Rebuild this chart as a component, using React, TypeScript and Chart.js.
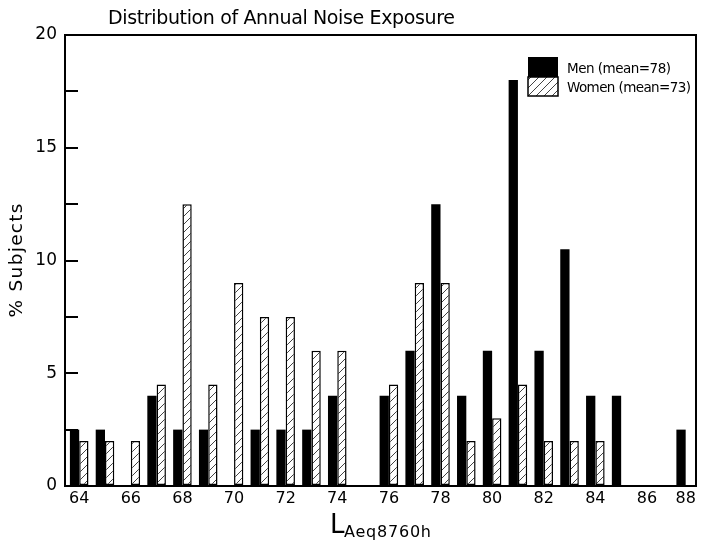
import React, { useEffect, useRef } from 'react';
import { Chart, registerables } from 'chart.js';

Chart.register(...registerables);

// ---- data ----
const binValues = [64, 65, 66, 67, 68, 69, 70, 71, 72, 73, 74, 75, 76, 77, 78, 79, 80, 81, 82, 83, 84, 85, 87.5];
const menPct = [2.5, 2.5, null, 4, 2.5, 2.5, null, 2.5, 2.5, 2.5, 4, null, 4, 6, 12.5, 4, 6, 18, 6, 10.5, 4, 4, 2.5];
const womenPct = [2, 2, 2, 4.5, 12.5, 4.5, 9, 7.5, 7.5, 6, 6, null, 4.5, 9, 9, 2, 3, 4.5, 2, 2, 2, null, null];
const xTickValues = [64, 66, 68, 70, 72, 74, 76, 78, 80, 82, 84, 86, 87.5];
const xTickLabels = ['64', '66', '68', '70', '72', '74', '76', '78', '80', '82', '84', '86', '88'];
const yLabelledTicks = [0, 5, 10, 15, 20];
const seriesNames = ['Men (mean=78)', 'Women (mean=73)'];
const titleText = 'Distribution of Annual Noise Exposure';
const yTitleText = '% Subjects';
const xTitleMain = 'L';
const xTitleSub = 'Aeq8760h';

const FONT = '"DejaVu Sans", "Liberation Sans", sans-serif';

function makeHatch(): CanvasPattern | string {
  const s = 8;
  const c = document.createElement('canvas');
  c.width = s;
  c.height = s;
  const g = c.getContext('2d');
  if (!g) return '#fff';
  g.fillStyle = '#ffffff';
  g.fillRect(0, 0, s, s);
  g.strokeStyle = '#444';
  g.lineWidth = 1;
  g.beginPath();
  g.moveTo(0, s);
  g.lineTo(s, 0);
  g.moveTo(-1, 1);
  g.lineTo(1, -1);
  g.moveTo(s - 1, s + 1);
  g.lineTo(s + 1, s - 1);
  g.stroke();
  const p = g.createPattern(c, 'repeat');
  return p || '#fff';
}

function fitText(ctx: CanvasRenderingContext2D, text: string, x: number, y: number, size: number, width: number) {
  ctx.font = `${size}px ${FONT}`;
  (ctx as any).letterSpacing = '0px';
  const w = ctx.measureText(text).width;
  const ls = (width - w) / Math.max(1, text.length - 1);
  (ctx as any).letterSpacing = `${ls}px`;
  ctx.textAlign = 'left';
  ctx.textBaseline = 'alphabetic';
  ctx.fillText(text, x, y);
  (ctx as any).letterSpacing = '0px';
}

export default function App() {
  const ref = useRef<HTMLCanvasElement | null>(null);

  useEffect(() => {
    if (!ref.current) return;
    const hatch = makeHatch();

    const decor = {
      id: 'decor',
      afterDatasetsDraw(chart: any) {
        const { ctx, chartArea } = chart;
        ctx.save();
        ctx.strokeStyle = '#000';
        ctx.lineWidth = 2;
        ctx.strokeRect(chartArea.left, chartArea.top, chartArea.right - chartArea.left, chartArea.bottom - chartArea.top);
        ctx.restore();
      },
      afterDraw(chart: any) {
        const { ctx, chartArea } = chart;
        ctx.save();
        ctx.fillStyle = '#000';
        // title
        fitText(ctx, titleText, 108, 24, 19, 347);
        // y title
        ctx.save();
        ctx.translate(21.5, (chartArea.top + chartArea.bottom) / 2);
        ctx.rotate(-Math.PI / 2);
        fitText(ctx, yTitleText, -57, 0, 18.5, 114);
        ctx.restore();
        // x title
        fitText(ctx, xTitleMain, 330, 533, 26, 12);
        fitText(ctx, xTitleSub, 344, 537, 16, 87);
        // legend
        const lx = chartArea.right - 168;
        const ly = chartArea.top + 22;
        ctx.fillStyle = '#000';
        ctx.fillRect(lx, ly, 30, 20);
        ctx.fillStyle = hatch;
        ctx.fillRect(lx, ly + 20, 30, 19);
        ctx.strokeStyle = '#000';
        ctx.lineWidth = 1.5;
        ctx.strokeRect(lx, ly + 20, 30, 19);
        ctx.fillStyle = '#000';
        fitText(ctx, seriesNames[0], lx + 39, ly + 16, 13.5, 104);
        fitText(ctx, seriesNames[1], lx + 39, ly + 34.5, 13.5, 124);
        ctx.restore();
      },
    };

    const chart = new Chart(ref.current, {
      type: 'bar',
      data: {
        datasets: [
          {
            label: seriesNames[0],
            data: binValues.map((x, i) => ({ x, y: menPct[i] })) as any,
            backgroundColor: '#000',
            borderWidth: 0,
            categoryPercentage: 0.72,
            barPercentage: 1,
          },
          {
            label: seriesNames[1],
            data: binValues.map((x, i) => ({ x, y: womenPct[i] })) as any,
            backgroundColor: hatch as any,
            borderColor: '#000',
            borderWidth: 1.5,
            borderSkipped: false,
            categoryPercentage: 0.72,
            barPercentage: 1,
          },
        ],
      },
      options: {
        responsive: false,
        animation: false,
        layout: { padding: { left: 0, right: 8, top: 35, bottom: 0 } },
        plugins: {
          legend: { display: false },
          tooltip: { enabled: false },
          title: { display: false },
        },
        scales: {
          x: {
            type: 'linear',
            offset: false,
            min: 63.45,
            max: 87.9,
            grid: { display: false, offset: false },
            border: { display: false },
            afterBuildTicks: (scale: any) => {
              scale.ticks = xTickValues.map((v) => ({ value: v }));
            },
            afterFit: (scale: any) => {
              scale.height = 63;
            },
            ticks: {
              autoSkip: false,
              maxRotation: 0,
              padding: -5,
              color: '#000',
              font: { family: FONT, size: 16 },
              callback: (_v: any, i: number) => xTickLabels[i],
            },
          },
          y: {
            min: 0,
            max: 20,
            grid: {
              display: true,
              drawOnChartArea: false,
              drawTicks: true,
              tickLength: -13,
              color: '#000',
              lineWidth: 2,
            },
            border: { display: false },
            afterFit: (scale: any) => {
              scale.width = 65;
            },
            ticks: {
              stepSize: 2.5,
              padding: 21,
              color: '#000',
              font: { family: FONT, size: 17 },
              callback: (v: any) => (yLabelledTicks.includes(Number(v)) ? String(v) : ''),
            },
          },
        },
      },
      plugins: [decor],
    });
    return () => chart.destroy();
  }, []);

  return (
    <div style={{ position: 'absolute', left: 0, top: 0, width: 704, height: 549, background: '#fff' }}>
      <canvas ref={ref} width={704} height={549} style={{ display: 'block' }} />
    </div>
  );
}
